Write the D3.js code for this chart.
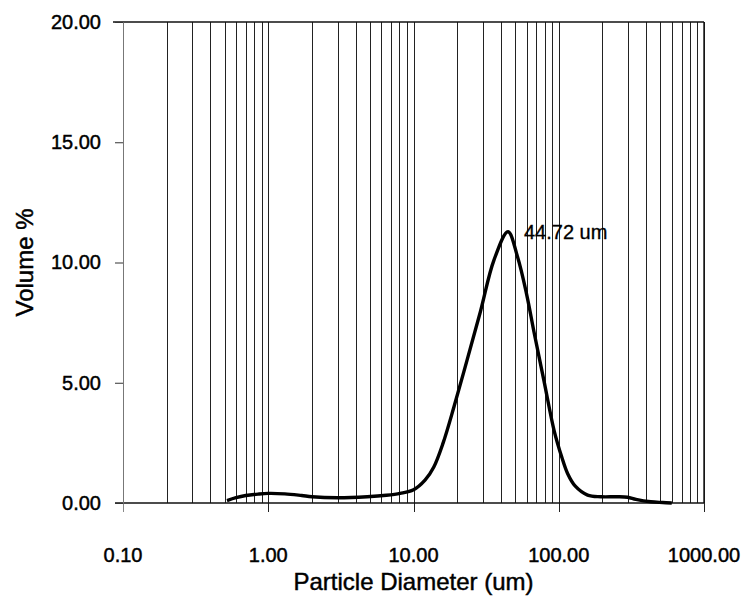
<!DOCTYPE html>
<html>
<head>
<meta charset="utf-8">
<script src="https://cdn.jsdelivr.net/npm/d3@7"></script>
<style>
  body { margin: 0; background: #fff; }
  text { font-family: "Liberation Sans", Arial, sans-serif; fill: #000; stroke: #000; stroke-width: 0.45px; }
</style>
</head>
<body>
<div id="chart"></div>
<script>
// particle diameter (um) and volume %
const diameters = [0.52, 0.6, 0.7, 0.85, 1.0, 1.3, 1.7, 2.0, 3.0, 4.8, 6.5, 8.1, 10, 12, 13.8, 16, 19, 23.4, 29, 35.8, 44.72, 52, 60, 67.6, 79, 93, 105, 115, 130, 158, 195, 250, 298, 340, 430, 520, 600];
const volumes = [0.10, 0.22, 0.31, 0.37, 0.40, 0.38, 0.31, 0.26, 0.22, 0.26, 0.32, 0.40, 0.55, 0.95, 1.5, 2.5, 4.0, 5.95, 8.0, 10.1, 11.28, 10.24, 8.7, 7.1, 5.1, 3.0, 1.9, 1.23, 0.7, 0.33, 0.26, 0.26, 0.24, 0.15, 0.05, 0.02, 0.0];

const xTickValues = [0.1, 1, 10, 100, 1000];
const yTickValues = [0, 5, 10, 15, 20];
const peakLabel = '44.72 um';
const peakDiameter = 44.72;
const peakVolume = 11.28;

(function() {
  const width = 748, height = 597;
  const margin = {top: 22, right: 44, bottom: 94, left: 123};
  const innerW = width - margin.left - margin.right;
  const innerH = height - margin.top - margin.bottom;

  const svg = d3.select('#chart').append('svg')
    .attr('width', width)
    .attr('height', height);

  const g = svg.append('g')
    .attr('transform', `translate(${margin.left},${margin.top})`);

  const x = d3.scaleLog().domain([0.1, 1000]).range([0, innerW]);
  const y = d3.scaleLinear().domain([0, 20]).range([innerH, 0]);

  // every 1..9 line of each decade
  const gridValues = [];
  for (let e = -1; e < 3; e++) {
    for (let k = 1; k < 10; k++) gridValues.push(k * Math.pow(10, e));
  }
  gridValues.push(1000);

  g.append('g').attr('class', 'grid')
    .selectAll('line')
    .data(gridValues)
    .enter()
    .append('line')
    .attr('x1', d => Math.round(x(d)) + 0.5)
    .attr('x2', d => Math.round(x(d)) + 0.5)
    .attr('y1', 0)
    .attr('y2', d => xTickValues.includes(d) ? innerH + 9 : innerH)
    .attr('stroke', d => d === 0.1 ? '#888' : '#222')
    .attr('stroke-width', 1);

  // top border, bottom axis line, right border
  g.append('line')
    .attr('x1', -10).attr('x2', innerW)
    .attr('y1', 0).attr('y2', 0)
    .attr('stroke', '#111').attr('stroke-width', 1.4);
  g.append('line')
    .attr('x1', -8).attr('x2', innerW)
    .attr('y1', innerH).attr('y2', innerH)
    .attr('stroke', '#111').attr('stroke-width', 1.4);
  g.append('line')
    .attr('x1', innerW).attr('x2', innerW)
    .attr('y1', 0).attr('y2', innerH)
    .attr('stroke', '#111').attr('stroke-width', 1.4);

  // y ticks
  const yAxis = d3.axisLeft(y).tickValues(yTickValues).tickSize(8)
    .tickFormat(d3.format('.2f'));
  const yg = g.append('g').call(yAxis);
  yg.select('.domain').attr('stroke', '#777');
  yg.selectAll('.tick line').attr('stroke', '#333');
  yg.selectAll('.tick text')
    .attr('x', -22)
    .attr('font-size', 20)
    .attr('font-family', '"Liberation Sans", Arial, sans-serif');

  // x tick labels
  g.append('g').selectAll('text')
    .data(xTickValues)
    .enter()
    .append('text')
    .attr('x', d => x(d))
    .attr('y', innerH + 59)
    .attr('text-anchor', 'middle')
    .attr('font-size', 20)
    .text(d => d3.format('.2f')(d));

  // distribution curve
  const data = diameters.map((d, i) => ({d, v: volumes[i]}));
  const line = d3.line()
    .x(p => x(p.d))
    .y(p => y(p.v))
    .curve(d3.curveCatmullRom.alpha(0.5));

  g.append('path')
    .datum(data)
    .attr('d', line)
    .attr('fill', 'none')
    .attr('stroke', '#000')
    .attr('stroke-width', 3.4)
    .attr('stroke-linejoin', 'round');

  g.append('text')
    .attr('x', x(peakDiameter) + 16)
    .attr('y', y(peakVolume) + 7)
    .attr('font-size', 20)
    .style('stroke-width', '0.3px')
    .text(peakLabel);

  // axis titles
  svg.append('text')
    .attr('x', margin.left + innerW / 2)
    .attr('y', 590)
    .attr('text-anchor', 'middle')
    .attr('font-size', 24)
    .text('Particle Diameter (um)');

  svg.append('text')
    .attr('transform', `translate(33,${margin.top + innerH / 2}) rotate(-90)`)
    .attr('text-anchor', 'middle')
    .attr('font-size', 24)
    .text('Volume %');
})();
</script>
</body>
</html>
